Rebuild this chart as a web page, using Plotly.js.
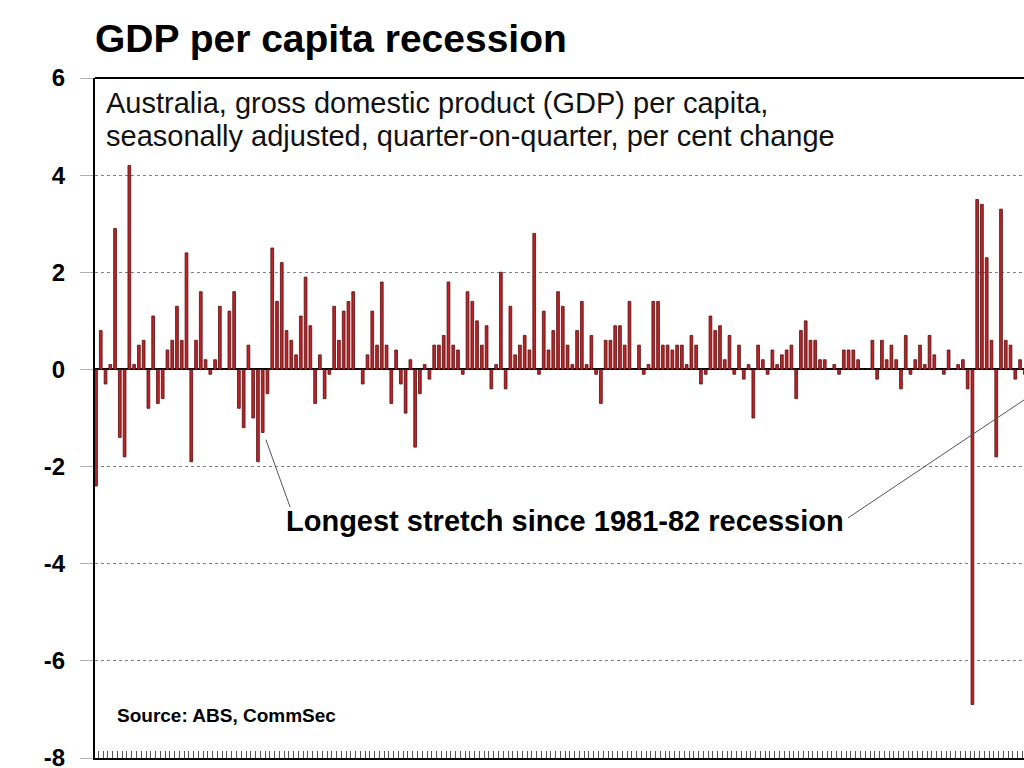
<!DOCTYPE html>
<html>
<head>
<meta charset="utf-8">
<script src="https://cdn.plot.ly/plotly-3.0.1.min.js"></script>
<style>
  html, body { margin: 0; padding: 0; background: #fff; overflow: hidden; }
  #chart { width: 1024px; height: 768px; }
</style>
</head>
<body>
<div id="chart"></div>
<script>
// Quarterly per-capita GDP growth (% q/q), first quarter shown: June 1974
const startYear = 1974;
const startQuarter = 2; // 1=Mar, 2=Jun, 3=Sep, 4=Dec
const quarterNames = ["Mar", "Jun", "Sep", "Dec"];

const gdpPerCapitaChange = [
  -2.4, 0.8, -0.3, 0.1, 2.9, -1.4, -1.8, 4.2, 0.1, 0.5,
  0.6, -0.8, 1.1, -0.7, -0.6, 0.4, 0.6, 1.3, 0.6, 2.4,
  -1.9, 0.6, 1.6, 0.2, -0.1, 0.2, 1.3, 0.0, 1.2, 1.6,
  -0.8, -1.2, 0.5, -1.0, -1.9, -1.3, -0.5, 2.5, 1.4, 2.2,
  0.8, 0.6, 0.3, 1.1, 1.9, 0.9, -0.7, 0.3, -0.6, -0.1,
  1.3, 0.6, 1.2, 1.4, 1.6, 0.0, -0.3, 0.3, 1.2, 0.5,
  1.8, 0.5, -0.7, 0.4, -0.3, -0.9, 0.2, -1.6, -0.5, 0.1,
  -0.2, 0.5, 0.5, 0.7, 1.8, 0.5, 0.4, -0.1, 1.6, 1.4,
  1.0, 0.5, 0.9, -0.4, 0.1, 2.0, -0.4, 1.3, 0.3, 0.5,
  0.7, 0.4, 2.8, -0.1, 1.2, 0.4, 0.8, 1.6, 1.3, 0.5,
  0.1, 0.8, 1.4, 0.1, 0.7, -0.1, -0.7, 0.6, 0.6, 0.9,
  0.9, 0.5, 1.4, 0.0, 0.5, -0.1, 0.1, 1.4, 1.4, 0.5,
  0.5, 0.4, 0.5, 0.5, 0.1, 0.7, 0.5, -0.3, -0.1, 1.1,
  0.8, 0.9, 0.2, 0.7, -0.1, 0.5, -0.2, 0.1, -1.0, 0.5,
  0.2, -0.1, 0.4, 0.1, 0.3, 0.4, 0.5, -0.6, 0.8, 1.0,
  0.6, 0.6, 0.2, 0.2, 0.0, 0.1, -0.1, 0.4, 0.4, 0.4,
  0.2, 0.0, 0.0, 0.6, -0.2, 0.6, 0.2, 0.5, 0.2, -0.4,
  0.7, -0.1, 0.2, 0.5, 0.1, 0.7, 0.3, 0.0, -0.1, 0.4,
  0.0, 0.1, 0.2, -0.4, -6.9, 3.5, 3.4, 2.3, 0.6, -1.8,
  3.3, 0.6, 0.5, -0.2, 0.2, -0.1
];

const yTickValues = [-8, -6, -4, -2, 0, 2, 4, 6];
const yTickLabels = ["-8", "-6", "-4", "-2", "0", "2", "4", "6"];

const titleText = "GDP per capita recession";
const subtitleLine1 = "Australia, gross domestic product (GDP) per capita,";
const subtitleLine2 = "seasonally adjusted, quarter-on-quarter, per cent change";
const calloutText = "Longest stretch since 1981-82 recession";
const sourceText = "Source: ABS, CommSec";

// quarter labels
const quarters = [];
for (let i = 0; i < gdpPerCapitaChange.length; i++) {
  const q = (startQuarter - 1 + i) % 4;
  const y = startYear + Math.floor((startQuarter - 1 + i) / 4);
  quarters.push(quarterNames[q] + "-" + y);
}

const FONT = "Liberation Sans, Arial, sans-serif";

const trace = {
  type: "bar",
  x: quarters,
  y: gdpPerCapitaChange,
  marker: { color: "#bb2428", line: { color: "#560b0b", width: 0.8 } },
  hoverinfo: "x+y"
};

const layout = {
  width: 1024,
  height: 768,
  margin: { l: 95, r: 0, t: 78, b: 10, pad: 0 },
  paper_bgcolor: "#ffffff",
  plot_bgcolor: "#ffffff",
  showlegend: false,
  bargap: 0.42,
  font: { family: FONT, color: "#000" },
  title: {
    text: titleText,
    font: { family: FONT, size: 39, weight: "bold", color: "#000" },
    xref: "container", x: 95 / 1024, xanchor: "left",
    yref: "container", y: 1 - 38 / 768, yanchor: "middle"
  },
  xaxis: {
    type: "category",
    range: [-0.21, 194.83],
    showticklabels: false,
    tickmode: "linear", tick0: 0, dtick: 1,
    ticks: "inside", ticklen: 7, tickwidth: 1, tickcolor: "#555",
    tickson: "boundaries",
    showgrid: false,
    showline: true, linecolor: "#000", linewidth: 2,
    zeroline: false,
    fixedrange: true
  },
  yaxis: {
    range: [-8, 6],
    tickmode: "array",
    tickvals: yTickValues,
    ticktext: yTickLabels,
    tickfont: { family: FONT, size: 24, weight: "bold", color: "#000" },
    ticks: "outside", ticklen: 13, tickwidth: 1, tickcolor: "#b0b0b0",
    ticklabelstandoff: 10,
    ticklabeloverflow: "allow",
    showgrid: true, gridcolor: "#808080", gridwidth: 1, griddash: "dot",
    zeroline: true, zerolinecolor: "#000", zerolinewidth: 2,
    showline: true, linecolor: "#000", linewidth: 2,
    fixedrange: true
  },
  shapes: [
    { type: "line", xref: "paper", yref: "paper", x0: 0, x1: 1, y0: 1, y1: 1,
      line: { color: "#000", width: 2 } },
    { type: "line", xref: "paper", yref: "paper", x0: 0.184, y0: 0.468, x1: 0.21, y1: 0.369,
      line: { color: "#555", width: 1 } },
    { type: "line", xref: "paper", yref: "paper", x0: 0.8105, y0: 0.353, x1: 1.0, y1: 0.5265,
      line: { color: "#555", width: 1 } }
  ],
  annotations: [
    { text: subtitleLine1, xref: "paper", yref: "paper", x: 0.0129, y: 0.963,
      xanchor: "left", yanchor: "middle", showarrow: false, xshift: -3,
      font: { family: FONT, size: 29, color: "#111" } },
    { text: subtitleLine2, xref: "paper", yref: "paper", x: 0.0129, y: 0.915,
      xanchor: "left", yanchor: "middle", showarrow: false, xshift: -3,
      font: { family: FONT, size: 29, color: "#111" } },
    { text: calloutText, xref: "paper", yref: "paper", x: 0.506, y: 0.3485,
      xanchor: "center", yanchor: "middle", showarrow: false,
      font: { family: FONT, size: 29, weight: "bold", color: "#000" } },
    { text: sourceText, xref: "paper", yref: "paper", x: 0.0215, y: 0.0618,
      xanchor: "left", yanchor: "middle", showarrow: false,
      font: { family: FONT, size: 19, weight: "bold", color: "#000" } }
  ]
};

Plotly.newPlot("chart", [trace], layout, { displayModeBar: false, staticPlot: true });
</script>
</body>
</html>
